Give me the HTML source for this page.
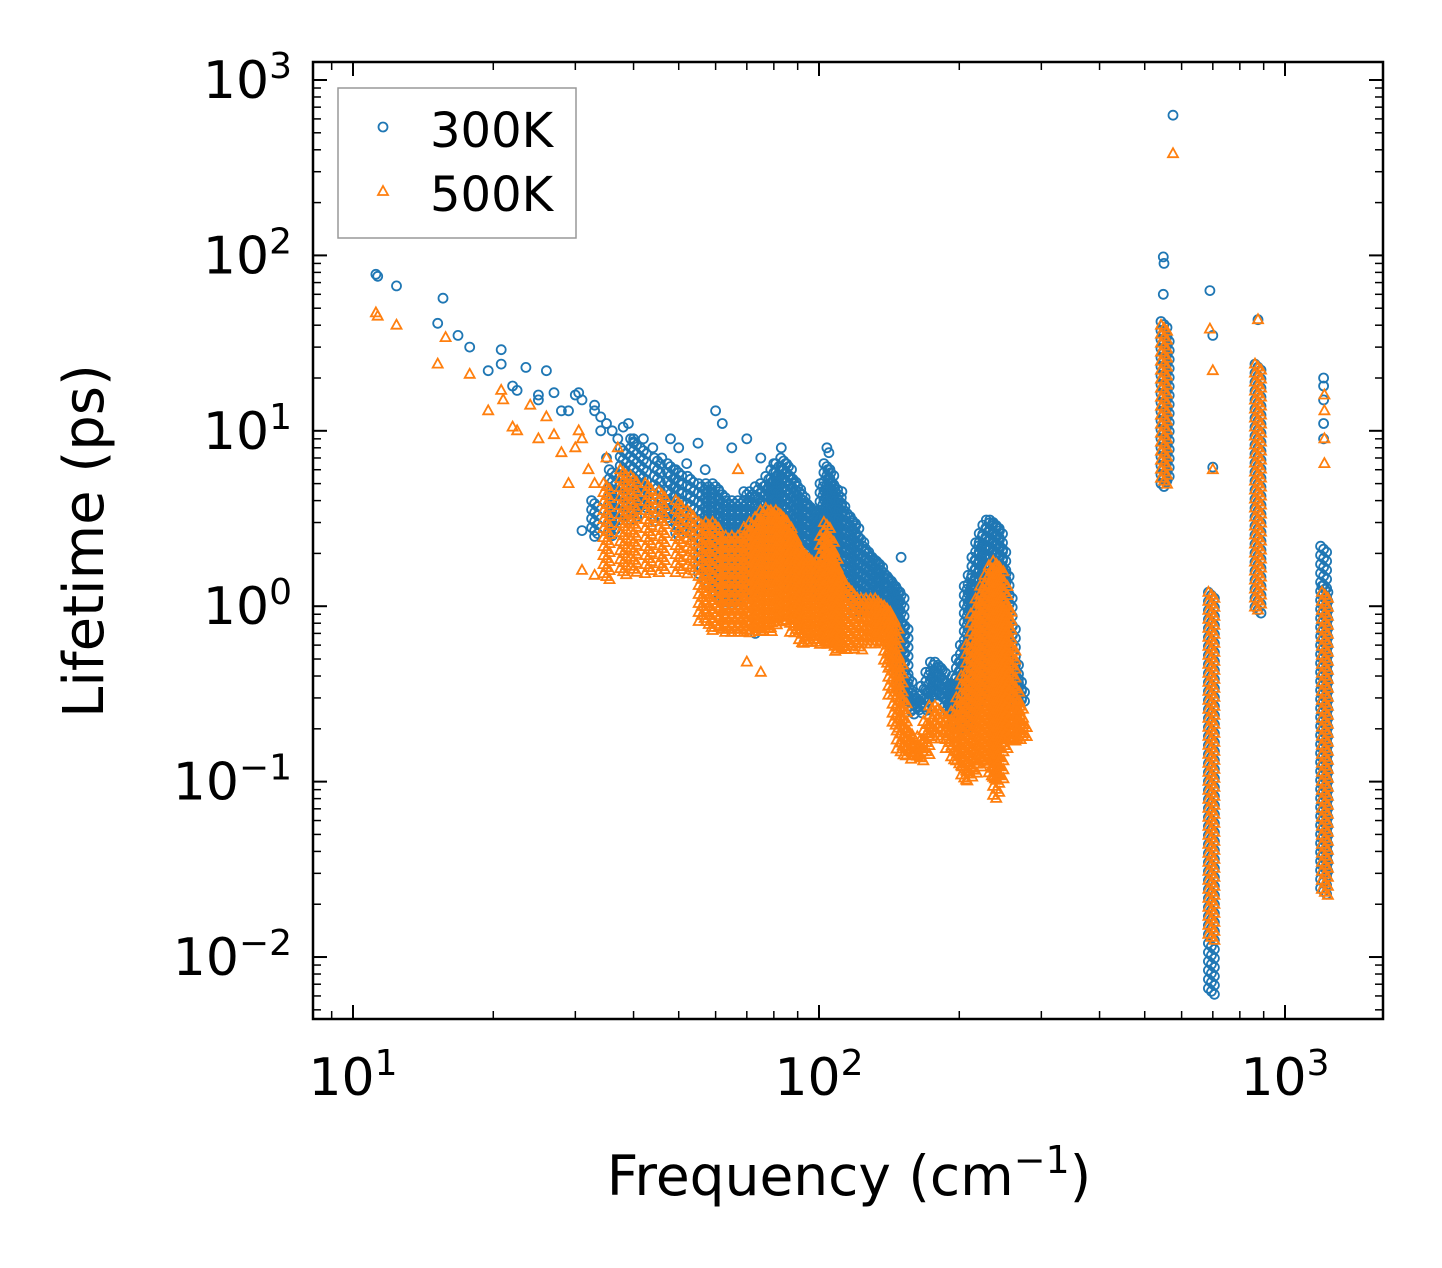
<!DOCTYPE html>
<html><head><meta charset="utf-8"><style>
html,body{margin:0;padding:0;background:#fff;}
svg{display:block;font-family:"DejaVu Sans","Liberation Sans",sans-serif;}
</style></head><body>
<svg id="chart" width="1442" height="1268" viewBox="0 0 1442 1268" xmlns="http://www.w3.org/2000/svg">
<rect x="0" y="0" width="1442" height="1268" fill="#fff"/>
<g id="marks"></g>
<g id="axes"></g>
<rect x="313" y="62" width="1070" height="957" fill="none" stroke="#000" stroke-width="2.5"/>
<text x="0" y="0" transform="translate(103,541) rotate(-90)" text-anchor="middle" font-size="56">Lifetime (ps)</text>
<text x="849" y="1195" text-anchor="middle" font-size="55">Frequency (cm<tspan baseline-shift="super" font-size="38">−1</tspan>)</text>
<g>
<rect x="338" y="88" width="238" height="150" fill="#fff" stroke="#999" stroke-width="1.5"/>
<circle cx="383" cy="127" r="4.5" fill="none" stroke="#1f77b4" stroke-width="1.8"/>
<text x="430" y="147" font-size="48">300K</text>
<polygon points="383,186 388,195 378,195" fill="none" stroke="#ff7f0e" stroke-width="1.8"/>
<text x="430" y="211" font-size="48">500K</text>
</g>
</svg>
<script>
// sparse points: [frequency, [lifetimes...]]
const groups300 = [
[11.2,[78]],[11.3,[76]],[12.4,[67]],[15.2,[41]],[15.6,[57]],[16.8,[35]],[17.8,[30]],[19.5,[22]],[20.8,[29,24]],[22,[18]],[22.5,[17]],[23.5,[23]],[25,[15,16]],[26,[22]],[27,[16.5]],[28,[13]],[29,[13]],[30,[16]],[30.5,[16.5]],[31,[15,2.7]],[33,[14,13,2.5]],[34,[12,10]],[35,[11,7]],[36,[10]],[37,[9]],[38,[10.5]],[39,[11]],[40,[9,8.5]],[42,[9]],[44,[8]],[46,[7]],[48,[9]],[50,[8]],[52,[6.5]],[55,[8.5]],[57,[6]],[60,[13]],[62,[11]],[65,[8]],[70,[9]],[73,[0.7]],[75,[7]],[80,[6.5]],[83,[8]],[104,[8]],[105,[7.5]],[112,[4.5]],[150,[1.9]],
[548,[60,98]],[550,[90]],[575,[630]],[690,[63]],[700,[35,6.2]],[875,[43]],[1210,[9,11,15,18,20]]
];
// dense bands: frequency, min lifetime, max lifetime
const bandFreq300 = [33,36,38,40,42,45,48,50,53,56,58,60,62,64,66,68,70,72,74,76,78,80,82,84,86,88,90,92,94,96,98,100,102,104,106,108,110,112,115,118,120,123,126,129,132,135,138,141,144,147,150,153,156,160,164,168,172,176,180,184,188,192,196,200,204,208,212,216,220,224,228,232,236,240,244,248,252,256,260,264,268,272,550,556,695,875,1210,1218];
const bandMin300 = [2.5,2.5,3,3,3.5,3,3,2.5,2.5,1.5,1.3,1.1,1,1,1,1.1,1.2,1.2,1.2,1.3,1.4,1.4,1.4,1.4,1.3,1.3,1.2,1.2,1.2,1.1,1.1,1.1,1.2,1.2,1.2,1.2,1.1,1.1,1,1,0.9,0.9,0.9,0.9,0.9,0.9,0.8,0.7,0.5,0.4,0.3,0.28,0.25,0.24,0.24,0.25,0.28,0.3,0.3,0.3,0.25,0.22,0.2,0.2,0.2,0.2,0.22,0.25,0.3,0.3,0.3,0.3,0.3,0.3,0.3,0.3,0.3,0.3,0.3,0.28,0.28,0.28,4.8,5,0.006,0.9,0.022,0.03];
const bandMax300 = [4,6,8,9,8,7,6.5,6,5.5,5,5,5,4.5,4,4,4,4.5,4.5,4.8,5,5.5,6,6.5,7,6.5,5.5,5,4.5,4,3.8,3.5,3.5,5,6.5,6,5,4.5,4,3.5,3.2,3,2.5,2.2,2,1.9,1.8,1.6,1.5,1.4,1.3,1.2,0.8,0.4,0.32,0.3,0.35,0.42,0.48,0.48,0.45,0.38,0.35,0.4,0.5,0.6,1.3,1.5,1.9,2.3,2.6,2.9,3.1,3.1,3,2.8,2.2,1.6,1.2,0.8,0.5,0.4,0.35,42,35,1.2,24,2.2,1.3];

const groups500 = [
[11.2,[47]],[11.3,[45]],[12.4,[40]],[15.2,[24]],[15.8,[34]],[17.8,[21]],[19.5,[13]],[20.8,[17]],[21,[15]],[22,[10.5]],[22.5,[10]],[24,[14]],[25,[9]],[26,[12]],[27,[9.5]],[28,[7.5]],[29,[5]],[30,[8]],[30.5,[10]],[31,[9,1.6]],[32,[6]],[33,[5,1.5]],[35,[7]],[37,[8]],[67,[6]],[70,[0.48]],[75,[0.42]],
[575,[380]],[690,[38]],[700,[22,6]],[875,[43]],[1215,[6.5,9,13,16]]
];
const bandFreq500 = [35,38,40,43,46,50,53,56,58,60,62,64,66,68,70,72,74,76,78,80,82,84,86,88,90,92,94,96,98,100,102,104,106,108,110,113,116,119,122,125,128,131,134,137,140,143,146,149,152,156,160,165,170,175,180,185,190,195,200,205,210,215,220,225,230,235,240,245,250,255,260,265,270,275,550,695,875,1218];
const bandMin500 = [1.4,1.5,1.5,1.5,1.5,1.5,1.5,0.8,0.75,0.7,0.7,0.7,0.7,0.7,0.7,0.7,0.7,0.7,0.7,0.75,0.8,0.8,0.8,0.7,0.7,0.6,0.6,0.6,0.6,0.6,0.6,0.6,0.6,0.55,0.55,0.55,0.55,0.55,0.55,0.6,0.6,0.6,0.6,0.6,0.45,0.3,0.2,0.15,0.14,0.14,0.13,0.13,0.14,0.17,0.18,0.17,0.15,0.13,0.12,0.1,0.1,0.11,0.12,0.13,0.13,0.1,0.08,0.1,0.15,0.17,0.17,0.17,0.17,0.17,4.8,0.012,0.95,0.022];
const bandMax500 = [5,6,5.5,5,4.5,4,3.5,3,3,3,2.5,2.5,2.5,2.5,2.8,3,3.2,3.5,3.6,3.5,3.5,3.3,3,2.6,2.3,2.1,2,1.8,1.8,1.8,2.5,3,2.5,2,1.6,1.4,1.3,1.2,1.1,1.1,1.1,1.1,1.1,1,1,0.9,0.8,0.5,0.3,0.2,0.17,0.18,0.22,0.27,0.27,0.25,0.22,0.25,0.3,0.4,0.6,0.9,1.1,1.3,1.5,1.7,1.8,1.7,1.4,1,0.6,0.35,0.28,0.22,40,1.2,24,1.2];

const xTickExps = [1,2,3];
const yTickExps = [-2,-1,0,1,2,3];

const NS="http://www.w3.org/2000/svg";
const L=313,R=1383,T=62,B=1019;
const xMin=1-40/466, xMax=3+98/466;
const yMax=3+18/175.5, yMin=-2-62/175.5;
function xs(f){return L+(Math.log10(f)-xMin)/(xMax-xMin)*(R-L);}
function ys(t){return B-(Math.log10(t)-yMin)/(yMax-yMin)*(B-T);}
function mk(tag,attrs,parent){const e=document.createElementNS(NS,tag);for(const k in attrs)e.setAttribute(k,attrs[k]);parent.appendChild(e);return e;}
const marks=document.getElementById('marks');
const axes=document.getElementById('axes');

function circ(x,y){
  const c=mk('circle',{cx:x.toFixed(1),cy:y.toFixed(1),r:4.5,fill:'none',stroke:'#1f77b4','stroke-width':1.8},marks);
  
  
}
function tri(x,y){
  const p=mk('polygon',{points:`${x.toFixed(1)},${(y-5.5).toFixed(1)} ${(x+5).toFixed(1)},${(y+3.5).toFixed(1)} ${(x-5).toFixed(1)},${(y+3.5).toFixed(1)}`,fill:'none',stroke:'#ff7f0e','stroke-width':1.8},marks);
  
  
}
function band(freqs,mins,maxs,fn){
  freqs.forEach((f,i)=>{
    const x=xs(f),y0=ys(maxs[i]),y1=ys(mins[i]);
    let k=0;
    for(let y=y0;y<=y1+0.01;y+=3){fn(x+((k%3)-1)*3,y);k++;}
  });
}
groups300.forEach(g=>g[1].forEach(t=>circ(xs(g[0]),ys(t))));
band(bandFreq300,bandMin300,bandMax300,circ);
groups500.forEach(g=>g[1].forEach(t=>tri(xs(g[0]),ys(t))));
band(bandFreq500,bandMin500,bandMax500,tri);

for(let e=0;e<=3;e++){for(let m=1;m<10;m++){
  const v=m*Math.pow(10,e); const x=xs(v); if(x<L||x>R)continue;
  const len=m===1?14:8;
  mk('line',{x1:x,y1:B,x2:x,y2:B-len,stroke:'#000','stroke-width':m===1?2:1.5},axes);
  mk('line',{x1:x,y1:T,x2:x,y2:T+len,stroke:'#000','stroke-width':m===1?2:1.5},axes);
}}
for(let e=-3;e<=3;e++){for(let m=1;m<10;m++){
  const v=m*Math.pow(10,e); const y=ys(v); if(y<T||y>B)continue;
  const len=m===1?14:8;
  mk('line',{x1:L,y1:y,x2:L+len,y2:y,stroke:'#000','stroke-width':m===1?2:1.5},axes);
  mk('line',{x1:R,y1:y,x2:R-len,y2:y,stroke:'#000','stroke-width':m===1?2:1.5},axes);
}}
xTickExps.forEach(e=>{
  const t=mk('text',{x:xs(Math.pow(10,e)),y:1095,'text-anchor':'middle','font-size':52},axes);
  
  
  t.textContent='10';
  const s=mk('tspan',{'baseline-shift':'super','font-size':36},t); s.textContent=String(e);
});
yTickExps.forEach(e=>{
  const t=mk('text',{x:292,y:ys(Math.pow(10,e))+18,'text-anchor':'end','font-size':52},axes);
  
  
  t.textContent='10';
  const s=mk('tspan',{'baseline-shift':'super','font-size':36},t); s.textContent=e<0?'−'+(-e):String(e);
});
</script>
</body></html>
